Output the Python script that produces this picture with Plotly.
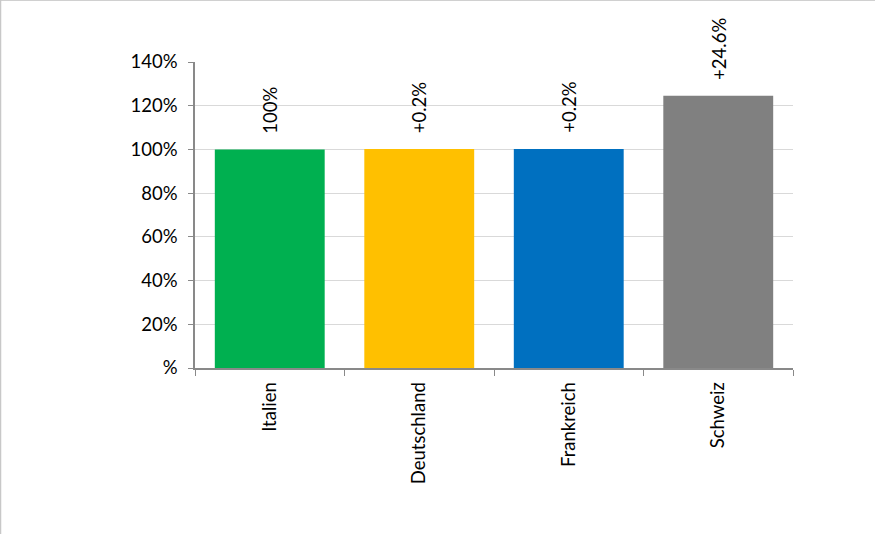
import plotly.graph_objects as go

categories = ["Italien", "Deutschland", "Frankreich", "Schweiz"]
values = [100, 100.2, 100.2, 124.6]
labels = ["100%", "+0.2%", "+0.2%", "+24.6%"]
colors = ["#00B050", "#FFC000", "#0070C0", "#808080"]
tick_vals = [0, 20, 40, 60, 80, 100, 120, 140]
tick_text = ["%", "20%", "40%", "60%", "80%", "100%", "120%", "140%"]

W, H = 877, 534
L, R, T, B = 195, 84, 62, 166
pw, ph = W - L - R, H - T - B
FS = 18.5

fig = go.Figure(go.Bar(
    x=categories, y=values, marker_color=colors, marker_line_width=0,
    hoverinfo="skip",
))

for c, v, t in zip(categories, values, labels):
    fig.add_annotation(x=c, y=v, text=t, textangle=-90, showarrow=False,
                       xanchor="center", yanchor="bottom", yshift=14,
                       font=dict(size=FS, color="#000000"))

fig.update_layout(
    width=W, height=H, margin=dict(l=L, r=R, t=T, b=B),
    paper_bgcolor="white", plot_bgcolor="white",
    font=dict(family="Lato, Liberation Sans, sans-serif", size=FS, color="#000000"),
    bargap=0.265, showlegend=False,
    xaxis=dict(tickangle=-90, showline=True, linecolor="#898989", linewidth=1.5,
               ticks="outside", tickson="boundaries", ticklen=6, tickcolor="#898989",
               showgrid=False, tickfont=dict(size=FS), ticklabelstandoff=5),
    yaxis=dict(range=[0, 140], tickvals=tick_vals, ticktext=tick_text,
               showline=True, linecolor="#898989", linewidth=1.5,
               ticks="outside", ticklen=5, tickcolor="#898989",
               gridcolor="#D9D9D9", gridwidth=1, zeroline=False,
               tickfont=dict(size=FS), ticklabelstandoff=7),
    shapes=[
        dict(type="line", xref="paper", yref="paper",
             x0=-L / pw, x1=(W - 2 - L) / pw, y0=1 + (T - 0.5) / ph, y1=1 + (T - 0.5) / ph,
             line=dict(color="#D0D0D0", width=1)),
        dict(type="line", xref="paper", yref="paper",
             x0=-(L - 0.5) / pw, x1=-(L - 0.5) / pw, y0=-(B) / ph, y1=1 + T / ph,
             line=dict(color="#C8C8C8", width=1.5)),
    ],
)

fig.write_html("out.html", config={"displayModeBar": False},
               post_script="document.body.style.margin='0';document.body.style.overflow='hidden';")
